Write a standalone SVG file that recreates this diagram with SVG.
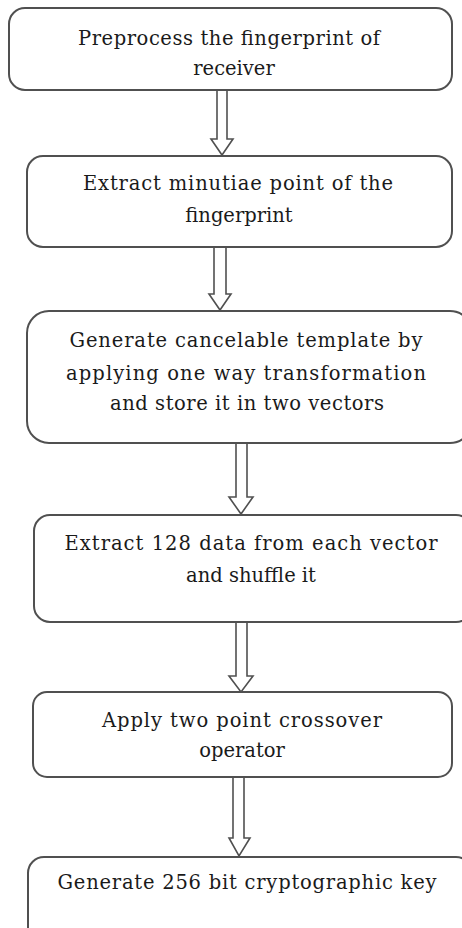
<svg xmlns="http://www.w3.org/2000/svg" width="462" height="928" viewBox="0 0 462 928">
<style>
.box{fill:#fff;stroke:#505050;stroke-width:2}
.arr{fill:#fff;stroke:#505050;stroke-width:1.6;stroke-linejoin:miter}
text{font-family:"DejaVu Serif","Liberation Serif",serif;font-size:19.5px;fill:#1a1a1a;text-anchor:middle}
</style>
<rect width="462" height="928" fill="#fff"/>
<g id="connectors">
<path class="arr" d="M217,90 V139 H211 L222,155 L233,139 H227 V90 Z"/>
<path class="arr" d="M214,247 V294 H209 L220,310 L231,294 H226 V247 Z"/>
<path class="arr" d="M236,443 V497 H229 L241,514 L253,497 H247 V443 Z"/>
<path class="arr" d="M236,622 V676 H229 L241,692 L253,676 H247 V622 Z"/>
<path class="arr" d="M233,777 V838 H229 L239,856 L250,838 H244 V777 Z"/>
</g>
<g id="n1">
<rect class="box" x="9" y="8" width="443" height="82" rx="16"/>
<text x="229" y="45" textLength="302" lengthAdjust="spacing">Preprocess the fingerprint of</text>
<text x="234" y="75">receiver</text>
</g>
<g id="n2">
<rect class="box" x="27" y="156" width="425" height="91" rx="16"/>
<text x="238" y="190" textLength="310" lengthAdjust="spacing">Extract minutiae point of the</text>
<text x="239" y="222">fingerprint</text>
</g>
<g id="n3">
<rect class="box" x="27" y="311" width="445" height="132" rx="22"/>
<text x="246" y="347" textLength="353" lengthAdjust="spacing">Generate cancelable template by</text>
<text x="246" y="380" textLength="360" lengthAdjust="spacing">applying one way transformation</text>
<text x="247" y="410" textLength="274" lengthAdjust="spacing">and store it in two vectors</text>
</g>
<g id="n4">
<rect class="box" x="34" y="515" width="438" height="107" rx="16"/>
<text x="251" y="550" textLength="373" lengthAdjust="spacing">Extract 128 data from each vector</text>
<text x="251" y="582">and shuffle it</text>
</g>
<g id="n5">
<rect class="box" x="33" y="692" width="419" height="85" rx="14"/>
<text x="242" y="727" textLength="280" lengthAdjust="spacing">Apply two point crossover</text>
<text x="242" y="757">operator</text>
</g>
<g id="n6">
<rect class="box" x="28" y="857" width="444" height="90" rx="16"/>
<text x="247" y="889" textLength="379" lengthAdjust="spacing">Generate 256 bit cryptographic key</text>
</g>
</svg>
